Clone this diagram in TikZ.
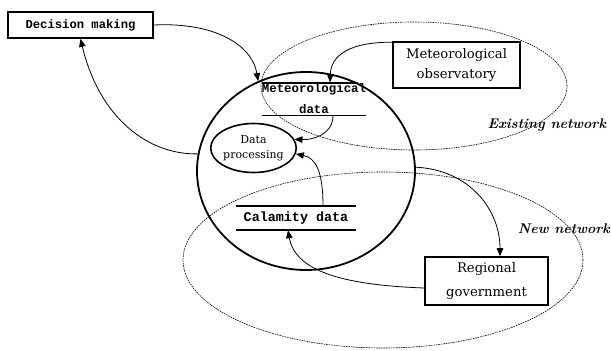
\documentclass[tikz,border=0pt]{standalone}
\usepackage{fontspec}
\newfontfamily\codefont{Liberation Mono}
\newfontfamily\labelfont{DejaVu Serif}
\usetikzlibrary{arrows.meta,shapes.geometric}

\tikzset{
  flow/.style={line width=0.8pt,-{Triangle[length=8pt,width=6.5pt]}},
  box/.style={draw,line width=1.6pt,align=center,inner sep=0pt},
  store/.style={align=center,inner sep=0pt,font=\codefont\bfseries},
  storeline/.style={line width=1.5pt},
  netline/.style={line width=0.6pt,dash pattern=on 1.6pt off 0.9pt},
  netlabel/.style={font=\fontsize{14}{16}\selectfont\bfseries\itshape},
  boxtext/.style={font=\labelfont\fontsize{13.2}{20}\selectfont}
}

\begin{document}
\begin{tikzpicture}[x=1pt,y=-1pt]
\useasboundingbox (0,0) rectangle (611,351);

% network boundaries
\node[netline,draw,ellipse,minimum width=306pt,minimum height=128pt,inner sep=0pt] (exnet) at (414,86) {};
\node[netline,draw,ellipse,minimum width=400pt,minimum height=176pt,inner sep=0pt] (newnet) at (383,260) {};
\node[netlabel,anchor=west] (exlabel) at (484,125) {Existing network};
\node[netlabel,anchor=east,inner xsep=1pt] (newlabel) at (611,229) {New network};

% information system and processing
\node[draw,ellipse,line width=1.8pt,minimum width=218pt,minimum height=198pt,inner sep=0pt] (sys) at (306,171) {};
\node[draw,ellipse,line width=1.6pt,minimum width=73pt,minimum height=49pt,inner sep=0pt,
      align=center,font=\labelfont\fontsize{11}{15}\selectfont] (dp) at (253.5,148) {Data\\processing};

% data stores
\node[store,minimum width=104pt,minimum height=33pt,font=\codefont\bfseries\fontsize{12.4}{21}\selectfont] (md) at (314,99) {Meteorological\\data};
\draw[storeline] ([yshift=-0.5pt]md.north west) -- ([xshift=-8pt,yshift=-0.5pt]md.north east);
\draw[storeline] (md.south west) -- (md.south east);
\node[store,minimum width=119pt,minimum height=24pt,font=\codefont\bfseries\fontsize{13.4}{16}\selectfont] (cd) at (296,218) {Calamity data};
\draw[storeline] (cd.north west) -- (cd.north east);
\draw[storeline] (cd.south west) -- (cd.south east);

% external entities
\node[box,minimum width=145pt,minimum height=26pt,font=\codefont\bfseries\fontsize{12.2}{14}\selectfont] (dm) at (80.5,25) {Decision making};
\node[box,boxtext,minimum width=127pt,minimum height=46pt] (mo) at (456.5,65) {Meteorological\\observatory};
\node[box,boxtext,minimum width=123pt,minimum height=48pt,font=\labelfont\fontsize{13.2}{24}\selectfont] (rg) at (486.5,281) {Regional\\government};

% flows
\draw[flow] (dm.east) .. controls (215,22) and (252,45) .. (sys.118);
\draw[flow] (sys.171) .. controls (150,155) and (100,120) .. (dm.south);
\draw[flow] ([yshift=-1pt]mo.north west) .. controls (350,42) and (331,55) .. ([xshift=16pt]md.north);
\draw[flow] ([xshift=19pt]md.south) .. controls (333,135) and (312,140) .. (dp.12);
\draw[flow] ([xshift=27pt]cd.north) .. controls (323,172) and (316,158) .. (dp.-8);
\draw[flow] (sys.2) .. controls (470,170) and (500,210) .. ([xshift=13.5pt]rg.north);
\draw[flow] ([yshift=-7pt]rg.west) .. controls (340,285) and (295,270) .. ([xshift=-8pt]cd.south);
\end{tikzpicture}
\end{document}
